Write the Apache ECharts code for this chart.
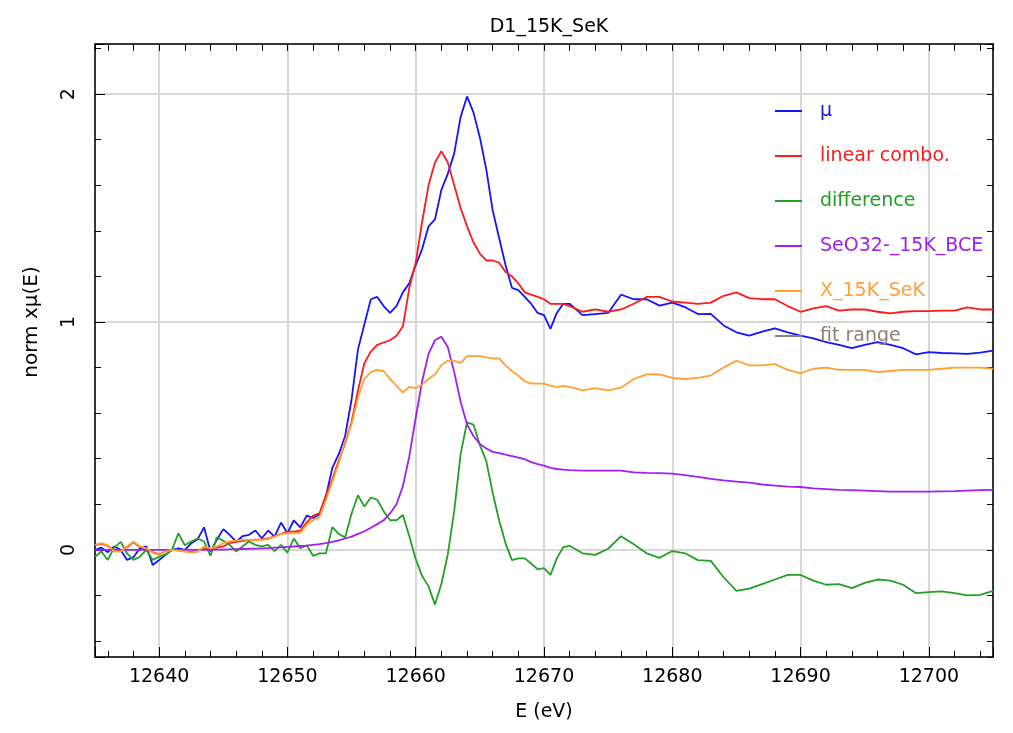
<!DOCTYPE html>
<html lang="en">
<head>
<meta charset="UTF-8">
<title>D1_15K_SeK</title>
<script src="https://cdn.jsdelivr.net/npm/echarts@6/dist/echarts.min.js"></script>
<style>
  html, body { margin: 0; padding: 0; background: #fff; }
  #main { width: 1013px; height: 733px; }
</style>
</head>
<body>
<div id="main"></div>
<script>
// energy grid (eV): 0.5 eV steps through the edge, 1 eV after
const energy = [
  12635, 12635.5, 12636, 12636.5, 12637, 12637.5, 12638, 12638.5, 12639, 12639.5,
  12640, 12640.5, 12641, 12641.5, 12642, 12642.5, 12643, 12643.5, 12644, 12644.5,
  12645, 12645.5, 12646, 12646.5, 12647, 12647.5, 12648, 12648.5, 12649, 12649.5,
  12650, 12650.5, 12651, 12651.5, 12652, 12652.5, 12653, 12653.5, 12654, 12654.5,
  12655, 12655.5, 12656, 12656.5, 12657, 12657.5, 12658, 12658.5, 12659, 12659.5,
  12660, 12660.5, 12661, 12661.5, 12662, 12662.5, 12663, 12663.5, 12664, 12664.5,
  12665, 12665.5, 12666, 12666.5, 12667, 12667.5, 12668, 12668.5, 12669, 12669.5,
  12670, 12670.5, 12671, 12671.5, 12672,
  12673, 12674, 12675, 12676, 12677, 12678, 12679, 12680, 12681, 12682,
  12683, 12684, 12685, 12686, 12687, 12688, 12689, 12690, 12691, 12692,
  12693, 12694, 12695, 12696, 12697, 12698, 12699, 12700, 12701, 12702, 12703, 12704, 12705
];

const mu = [
  0.00, 0.01, -0.01, 0.015, 0.00, -0.044, -0.032, 0.007, 0.015, -0.066,
  -0.044, -0.022, 0.00, 0.007, 0.00, 0.029, 0.047, 0.099, -0.007, 0.044,
  0.091, 0.066, 0.036, 0.06, 0.066, 0.085, 0.051, 0.085, 0.058, 0.12,
  0.073, 0.13, 0.099, 0.15, 0.14, 0.155, 0.235, 0.36, 0.42, 0.50,
  0.66, 0.88, 0.99, 1.10, 1.11, 1.07, 1.04, 1.07, 1.13, 1.17,
  1.25, 1.32, 1.42, 1.45, 1.58, 1.65, 1.74, 1.90, 1.99, 1.92,
  1.81, 1.67, 1.49, 1.37, 1.25, 1.15, 1.14, 1.11, 1.08, 1.04,
  1.03, 0.97, 1.04, 1.08, 1.08,
  1.03, 1.035, 1.04, 1.12, 1.10, 1.10, 1.072, 1.085, 1.065, 1.035,
  1.036, 0.985, 0.955, 0.94, 0.958, 0.972, 0.955, 0.94, 0.928, 0.912,
  0.90, 0.885, 0.90, 0.912, 0.90, 0.885, 0.858, 0.868, 0.864, 0.862, 0.86, 0.866, 0.874
];

const linearCombo = [
  0.02, 0.027, 0.018, -0.005, -0.005, 0.013, 0.033, 0.013, 0.006, -0.01,
  -0.02, -0.006, 0.0, -0.002, -0.005, -0.01, -0.006, 0.007, 0.007, 0.01,
  0.015, 0.03, 0.035, 0.04, 0.042, 0.045, 0.046, 0.05, 0.06, 0.07,
  0.08, 0.08, 0.085, 0.12, 0.15, 0.16, 0.24, 0.31, 0.39, 0.47,
  0.56, 0.70, 0.82, 0.87, 0.90, 0.91, 0.92, 0.94, 0.98, 1.15,
  1.26, 1.44, 1.60, 1.70, 1.75, 1.70, 1.60, 1.50, 1.42, 1.35,
  1.30, 1.27, 1.27, 1.26, 1.22, 1.20, 1.17, 1.13, 1.12, 1.11,
  1.10, 1.08, 1.08, 1.08, 1.07,
  1.045, 1.055, 1.045, 1.055, 1.08, 1.11, 1.11, 1.09, 1.085, 1.08,
  1.085, 1.115, 1.13, 1.105, 1.10, 1.10, 1.07, 1.045, 1.06, 1.07,
  1.05, 1.055, 1.055, 1.045, 1.038, 1.045, 1.048, 1.048, 1.05, 1.05, 1.064, 1.055, 1.055
];

const difference = [
  -0.03, -0.007, -0.044, 0.01, 0.035, -0.015, -0.044, -0.03, 0.0, -0.044,
  -0.03, -0.02, 0.0, 0.073, 0.02, 0.037, 0.05, 0.037, -0.026, 0.055,
  0.04, 0.022, -0.007, 0.015, 0.037, 0.022, 0.015, 0.022, -0.005, 0.022,
  -0.012, 0.05, 0.007, 0.02, -0.026, -0.015, -0.015, 0.10, 0.07, 0.055,
  0.16, 0.24, 0.19, 0.23, 0.22, 0.17, 0.13, 0.13, 0.153, 0.06,
  -0.04, -0.115, -0.16, -0.24, -0.15, -0.02, 0.17, 0.42, 0.56, 0.55,
  0.46, 0.39, 0.25, 0.13, 0.03, -0.045, -0.037, -0.037, -0.06, -0.085,
  -0.08, -0.11, -0.037, 0.012, 0.018,
  -0.015, -0.022, 0.005, 0.06, 0.025, -0.015, -0.035, -0.005, -0.015, -0.045,
  -0.048, -0.12, -0.18, -0.17, -0.15, -0.13, -0.11, -0.11, -0.135, -0.153,
  -0.15, -0.168, -0.145, -0.13, -0.135, -0.153, -0.19, -0.185, -0.182, -0.19, -0.2, -0.197, -0.18
];

const seo3 = [
  0, 0, 0, 0, 0, 0, 0, 0, 0, 0,
  0, 0, 0, 0, 0, 0, 0, 0, 0, 0.001,
  0.001, 0.002, 0.003, 0.004, 0.005, 0.006, 0.007, 0.008, 0.01, 0.011,
  0.013, 0.015, 0.017, 0.019, 0.022, 0.025, 0.03, 0.035, 0.042, 0.05,
  0.058, 0.07, 0.082, 0.097, 0.113, 0.13, 0.16, 0.20, 0.28, 0.41,
  0.58, 0.74, 0.86, 0.92, 0.935, 0.89, 0.78, 0.65, 0.55, 0.50,
  0.465, 0.445, 0.43, 0.425, 0.418, 0.412, 0.405, 0.398, 0.385, 0.376,
  0.37, 0.36, 0.355, 0.352, 0.35,
  0.348, 0.348, 0.348, 0.348, 0.34, 0.338, 0.337, 0.335, 0.328, 0.32,
  0.312, 0.305, 0.30, 0.295, 0.287, 0.282, 0.278, 0.276, 0.27, 0.267,
  0.263, 0.262, 0.26, 0.258, 0.256, 0.256, 0.256, 0.256, 0.257, 0.258, 0.26, 0.262, 0.263
];

const x15k = [
  0.022, 0.03, 0.02, -0.007, -0.007, 0.015, 0.037, 0.015, 0.007, -0.012,
  -0.022, -0.007, 0.0, -0.003, -0.007, -0.012, -0.007, 0.015, 0.007, 0.015,
  0.03, 0.037, 0.041, 0.044, 0.044, 0.044, 0.044, 0.048, 0.058, 0.07,
  0.073, 0.073, 0.076, 0.11, 0.13, 0.143, 0.22, 0.30, 0.38, 0.48,
  0.55, 0.67, 0.75, 0.78, 0.79, 0.785, 0.75, 0.72, 0.69, 0.715,
  0.71, 0.725, 0.75, 0.77, 0.81, 0.83, 0.83, 0.82, 0.85, 0.85,
  0.85, 0.845, 0.84, 0.84, 0.81, 0.785, 0.765, 0.74, 0.73, 0.73,
  0.73, 0.72, 0.715, 0.72, 0.715,
  0.70, 0.71, 0.70, 0.712, 0.75, 0.77, 0.77, 0.755, 0.75, 0.755,
  0.765, 0.80, 0.83, 0.81, 0.81, 0.815, 0.79, 0.775, 0.795, 0.80,
  0.79, 0.79, 0.79, 0.78, 0.785, 0.79, 0.79, 0.79, 0.795, 0.80, 0.80, 0.80, 0.795
];

const seriesNames = ['\u03bc', 'linear combo.', 'difference', 'SeO32-_15K_BCE', 'X_15K_SeK', 'fit range'];
const seriesColors = ['#1414ff', '#ff1a1a', '#23a023', '#a020f0', '#ffa033', '#8c8274'];
const seriesValues = [mu, linearCombo, difference, seo3, x15k, []];

const FONT = 'DejaVu Sans';

function pairs(values) {
  return values.map((v, i) => [energy[i], v]);
}

const chart = echarts.init(document.getElementById('main'), null, { renderer: 'canvas' });

const xCommon = {
  type: 'value',
  min: 12635,
  max: 12705,
  minInterval: 10,
  maxInterval: 10,
  axisLine: { onZero: false, lineStyle: { color: '#000', width: 1.5 } }
};
const yCommon = {
  type: 'value',
  min: -0.47,
  max: 2.22,
  minInterval: 1,
  maxInterval: 1,
  axisLine: { onZero: false, lineStyle: { color: '#000', width: 1.5 } }
};

const option = {
  animation: false,
  backgroundColor: '#fff',
  title: {
    text: 'D1_15K_SeK',
    left: 544,
    top: 13,
    textAlign: 'center',
    textStyle: { fontFamily: FONT, fontSize: 19, fontWeight: 'normal', color: '#000' }
  },
  grid: { left: 95, right: 20, top: 44, bottom: 76, containLabel: false },
  legend: {
    orient: 'vertical',
    left: 770,
    top: 96,
    itemWidth: 27,
    itemHeight: 2,
    itemGap: 25,
    icon: 'rect',
    selectedMode: false,
    textStyle: { fontFamily: FONT, fontSize: 19, lineHeight: 20, padding: [0, 0, 0, 13] },
    data: seriesNames.map((n, i) => ({ name: n, textStyle: { color: seriesColors[i] } }))
  },
  xAxis: [
    Object.assign({}, xCommon, {
      position: 'bottom',
      name: 'E (eV)',
      nameLocation: 'middle',
      nameGap: 46,
      nameTextStyle: { fontFamily: FONT, fontSize: 19, color: '#000' },
      axisTick: { inside: true, length: 10, lineStyle: { color: '#000' } },
      minorTick: { show: true, splitNumber: 5, length: 6, lineStyle: { color: '#000' } },
      splitLine: { show: true, lineStyle: { color: '#d8d8d8', width: 2 } },
      axisLabel: {
        showMinLabel: false, showMaxLabel: false, margin: 11,
        fontFamily: FONT, fontSize: 19, color: '#000',
        formatter: v => String(v)
      }
    }),
    Object.assign({}, xCommon, {
      position: 'top',
      axisTick: { inside: true, length: 7, lineStyle: { color: '#000' } },
      minorTick: { show: true, splitNumber: 5, length: 7, lineStyle: { color: '#000' } },
      splitLine: { show: false },
      axisLabel: { show: false }
    })
  ],
  yAxis: [
    Object.assign({}, yCommon, {
      position: 'left',
      axisTick: { inside: true, length: 10, lineStyle: { color: '#000' } },
      minorTick: { show: true, splitNumber: 5, length: 6, lineStyle: { color: '#000' } },
      splitLine: { show: true, lineStyle: { color: '#d8d8d8', width: 2 } },
      axisLabel: { showMinLabel: false, showMaxLabel: false, rotate: 90, margin: 16, fontFamily: FONT, fontSize: 19, color: '#000' }
    }),
    Object.assign({}, yCommon, {
      position: 'right',
      axisTick: { inside: true, length: 6, lineStyle: { color: '#000' } },
      minorTick: { show: true, splitNumber: 5, length: 6, lineStyle: { color: '#000' } },
      splitLine: { show: false },
      axisLabel: { show: false }
    })
  ],
  graphic: [
    {
      type: 'text',
      x: 32,
      y: 322,
      rotation: Math.PI / 2,
      style: {
        text: 'norm x\u03bc(E)',
        font: '20px "DejaVu Sans"',
        fill: '#000',
        align: 'center',
        verticalAlign: 'middle',
        textAlign: 'center',
        textVerticalAlign: 'middle'
      }
    }
  ],
  series: seriesNames.map((n, i) => ({
    name: n,
    type: 'line',
    xAxisIndex: 0,
    yAxisIndex: 0,
    showSymbol: false,
    symbol: 'none',
    color: seriesColors[i],
    lineStyle: { color: seriesColors[i], width: 1.8 },
    data: pairs(seriesValues[i])
  }))
};

chart.setOption(option);
</script>
</body>
</html>
